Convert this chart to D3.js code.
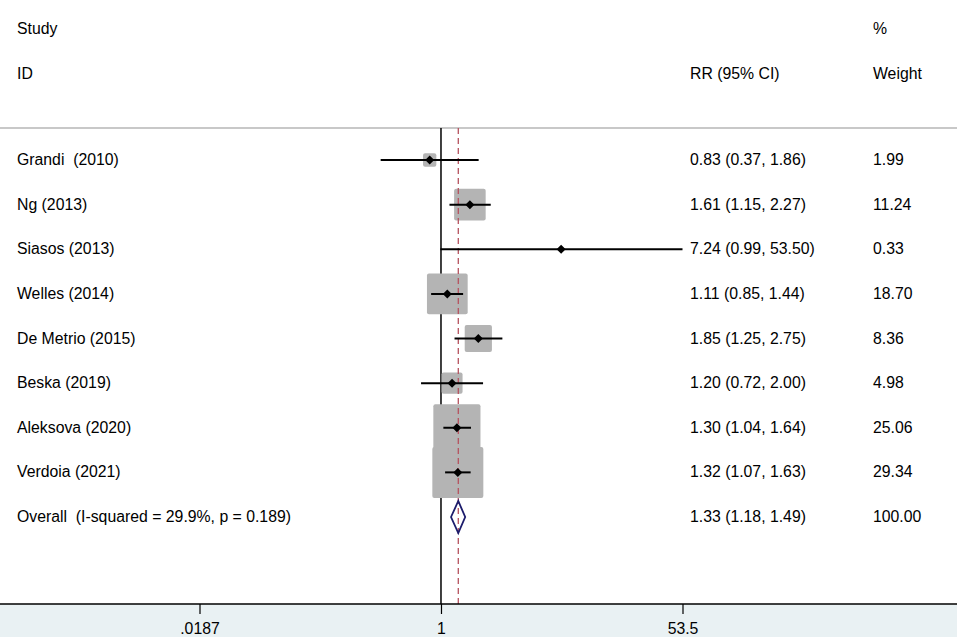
<!DOCTYPE html>
<html>
<head>
<meta charset="utf-8">
<script src="https://cdn.jsdelivr.net/npm/d3@7"></script>
<style>
  body { margin: 0; background: #fff; }
  svg text { font-family: "Liberation Sans", Arial, sans-serif; font-size: 15.8px; fill: #000; }
</style>
</head>
<body>
<svg id="chart" width="957" height="642"></svg>
<script>
// study data
const studies = ["Grandi  (2010)", "Ng (2013)", "Siasos (2013)", "Welles (2014)", "De Metrio (2015)",
  "Beska (2019)", "Aleksova (2020)", "Verdoia (2021)"];
const rr = [0.83, 1.61, 7.24, 1.11, 1.85, 1.20, 1.30, 1.32];
const lower = [0.37, 1.15, 0.99, 0.85, 1.25, 0.72, 1.04, 1.07];
const upper = [1.86, 2.27, 53.50, 1.44, 2.75, 2.00, 1.64, 1.63];
const weights = [1.99, 11.24, 0.33, 18.70, 8.36, 4.98, 25.06, 29.34];
const overallLabel = "Overall  (I-squared = 29.9%, p = 0.189)";
const overall = { rr: 1.33, lo: 1.18, hi: 1.49 };
const tickValues = [0.0187, 1, 53.5];
const tickLabels = [".0187", "1", "53.5"];

const W = 957, H = 642;
const svg = d3.select("#chart");

const x = d3.scaleLog().domain([0.0187, 53.5]).range([199.5, 682.5]);
const rowNames = studies.concat([overallLabel]);
const y = d3.scalePoint().domain(rowNames).range([160, 517]);
const boxSide = d3.scaleSqrt().domain([0, 29.34]).range([0, 51]);

const plotTop = 128, axisY = 604;
const colText = 17, colRR = 690, colW = 873;
const fmt = d3.format(".2f");

// axis panel background
svg.append("rect").attr("x", 0).attr("y", axisY).attr("width", W).attr("height", 33)
  .attr("fill", "#e9f1f3");

// header rule
svg.append("line").attr("x1", 0).attr("x2", W).attr("y1", plotTop).attr("y2", plotTop)
  .attr("stroke", "#c8c8c8").attr("stroke-width", 2);

// headers
svg.append("text").attr("x", colText).attr("y", 34).text("Study");
svg.append("text").attr("x", colText).attr("y", 79).text("ID");
svg.append("text").attr("x", colRR).attr("y", 79).text("RR (95% CI)");
svg.append("text").attr("x", colW).attr("y", 34).text("%");
svg.append("text").attr("x", colW).attr("y", 79).text("Weight");

// null line
svg.append("line").attr("x1", x(1)).attr("x2", x(1)).attr("y1", plotTop).attr("y2", axisY)
  .attr("stroke", "#000").attr("stroke-width", 1.5);

const data = studies.map((s, i) => ({ name: s, rr: rr[i], lo: lower[i], hi: upper[i], w: weights[i] }));

// weight boxes
svg.selectAll("rect.box").data(data).join("rect").attr("class", "box")
  .attr("x", d => x(d.rr) - boxSide(d.w) / 2)
  .attr("y", d => y(d.name) - boxSide(d.w) / 2)
  .attr("width", d => boxSide(d.w)).attr("height", d => boxSide(d.w))
  .attr("rx", 2).attr("fill", "#b4b4b4");

// overall effect line
svg.append("line").attr("x1", x(overall.rr)).attr("x2", x(overall.rr))
  .attr("y1", plotTop).attr("y2", axisY)
  .attr("stroke", "#b5525e").attr("stroke-width", 1.3).attr("stroke-dasharray", "6,4");

// confidence intervals
svg.selectAll("line.ci").data(data).join("line").attr("class", "ci")
  .attr("x1", d => x(d.lo)).attr("x2", d => x(d.hi))
  .attr("y1", d => y(d.name)).attr("y2", d => y(d.name))
  .attr("stroke", "#000").attr("stroke-width", 2);

// point estimates
svg.selectAll("path.pt").data(data).join("path").attr("class", "pt")
  .attr("transform", d => `translate(${x(d.rr)},${y(d.name)})`)
  .attr("d", "M0,-4.5L4.5,0L0,4.5L-4.5,0Z").attr("fill", "#000");

// overall diamond
const oy = y(overallLabel);
svg.append("path")
  .attr("d", `M${x(overall.lo)},${oy}L${x(overall.rr)},${oy - 16}L${x(overall.hi)},${oy}L${x(overall.rr)},${oy + 16}Z`)
  .attr("fill", "none").attr("stroke", "#1c1c6c").attr("stroke-width", 1.8);

// row texts
const rows = data.map(d => ({ name: d.name, est: `${fmt(d.rr)} (${fmt(d.lo)}, ${fmt(d.hi)})`, w: fmt(d.w) }))
  .concat([{ name: overallLabel, est: `${fmt(overall.rr)} (${fmt(overall.lo)}, ${fmt(overall.hi)})`, w: "100.00" }]);
const rowG = svg.selectAll("g.row").data(rows).join("g").attr("class", "row")
  .attr("transform", d => `translate(0,${y(d.name) + 5})`);
rowG.append("text").attr("x", colText).text(d => d.name).style("white-space", "pre").attr("xml:space", "preserve");
rowG.append("text").attr("x", colRR).text(d => d.est);
rowG.append("text").attr("x", colW).text(d => d.w);

// x axis
const axis = svg.append("g").attr("transform", `translate(0,${axisY})`)
  .call(d3.axisBottom(x).tickValues(tickValues).tickFormat((d, i) => tickLabels[i]).tickSize(10).tickPadding(9));
axis.select(".domain").remove();
axis.selectAll(".tick line").attr("stroke", "#000").attr("stroke-width", 1.2);
axis.selectAll(".tick text").style("font-size", "15.8px").attr("fill", "#000");
svg.append("line").attr("x1", 0).attr("x2", W).attr("y1", axisY).attr("y2", axisY)
  .attr("stroke", "#000").attr("stroke-width", 1.3);
</script>
</body>
</html>
